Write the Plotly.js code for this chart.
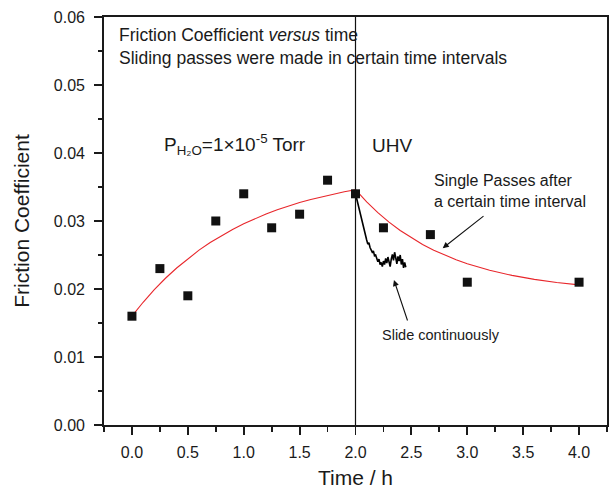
<!DOCTYPE html>
<html>
<head>
<meta charset="utf-8">
<script src="https://cdn.plot.ly/plotly-3.0.1.min.js"></script>
<style>html,body{margin:0;padding:0;background:#fff;}#chart{width:609px;height:489px;}</style>
</head>
<body>
<div id="chart"></div>
<script>
// Measured single-pass friction coefficients
const timeH = [0, 0.25, 0.5, 0.75, 1.0, 1.25, 1.5, 1.75, 2.0, 2.25, 2.67, 3.0, 4.0];
const friction = [0.016, 0.023, 0.019, 0.030, 0.034, 0.029, 0.031, 0.036, 0.034, 0.029, 0.028, 0.021, 0.021];

// Red fit curve, H2O pressure region
const fit1X = [0, 0.1, 0.2, 0.3, 0.4, 0.5, 0.6, 0.7, 0.8, 0.9, 1.0, 1.1, 1.2, 1.3, 1.4, 1.5, 1.6, 1.7, 1.8, 1.9, 2.0];
const fit1Y = [0.0160, 0.01805, 0.01990, 0.02158, 0.02309, 0.02446, 0.02571, 0.02683, 0.02785, 0.02876, 0.02960,
               0.03035, 0.03103, 0.03165, 0.03221, 0.03271, 0.03317, 0.03358, 0.03395, 0.03429, 0.03460];

// Red fit curve, UHV region
const fit2X = [2.0, 2.1, 2.2, 2.3, 2.4, 2.5, 2.6, 2.7, 2.8, 2.9, 3.0, 3.2, 3.4, 3.6, 3.8, 4.0];
const fit2Y = [0.03460, 0.03281, 0.03123, 0.02983, 0.02860, 0.02751, 0.02655, 0.02571, 0.02496, 0.02430,
               0.02372, 0.02275, 0.02200, 0.02141, 0.02096, 0.02060];

// Continuous sliding trace
const slideX = [2.00, 2.01, 2.02, 2.03, 2.04, 2.05, 2.06, 2.07, 2.08, 2.09, 2.10, 2.11, 2.12, 2.13, 2.14, 2.15,
                2.16, 2.17, 2.18, 2.19, 2.20, 2.21, 2.22, 2.23, 2.24, 2.25, 2.26, 2.27, 2.28, 2.29, 2.30, 2.31,
                2.32, 2.33, 2.34, 2.35, 2.36, 2.37, 2.38, 2.39, 2.40, 2.41, 2.42, 2.43, 2.44, 2.45];
const slideY = [0.0340, 0.0333, 0.0326, 0.0320, 0.0313, 0.0306, 0.0298, 0.0292, 0.0282, 0.0276, 0.0272, 0.0266,
                0.0268, 0.0261, 0.0258, 0.0254, 0.0256, 0.0249, 0.0250, 0.0243, 0.0240, 0.0244, 0.0236, 0.0239,
                0.0233, 0.0241, 0.0236, 0.0245, 0.0238, 0.0247, 0.0240, 0.0233, 0.0244, 0.0251, 0.0242, 0.0254,
                0.0246, 0.0237, 0.0248, 0.0241, 0.0250, 0.0236, 0.0244, 0.0231, 0.0239, 0.0232];

const F = 'Liberation Sans, Arial, sans-serif';
const C = '#1a1a1a';

const traces = [
  {x: fit1X, y: fit1Y, mode: 'lines', line: {color: '#e8262b', width: 1.1}, hoverinfo: 'skip'},
  {x: fit2X, y: fit2Y, mode: 'lines', line: {color: '#e8262b', width: 1.1}, hoverinfo: 'skip'},
  {x: slideX, y: slideY, mode: 'lines', line: {color: '#000', width: 1.6}, hoverinfo: 'skip'},
  {x: timeH, y: friction, mode: 'markers', marker: {symbol: 'square', size: 9, color: '#111'}}
];

const layout = {
  width: 609, height: 489,
  margin: {l: 104, r: 2, t: 17, b: 64},
  paper_bgcolor: '#fff', plot_bgcolor: '#fff',
  showlegend: false,
  font: {family: F, color: C, size: 16},
  xaxis: {
    range: [-0.25, 4.25], dtick: 0.5, tick0: 0, tickformat: '.1f',
    ticks: 'outside', ticklen: 8, tickwidth: 1.8, tickcolor: C,
    minor: {dtick: 0.25, tick0: 0, ticks: 'outside', ticklen: 5, tickwidth: 1.8, tickcolor: C, showgrid: false},
    showline: true, linewidth: 1.8, linecolor: C, mirror: true,
    showgrid: false, zeroline: false, ticklabelstandoff: 4,
    tickfont: {size: 16, family: F, color: C},
    title: {text: 'Time / h', font: {size: 21, family: F, color: C}, standoff: 10}
  },
  yaxis: {
    range: [0, 0.06], dtick: 0.01, tick0: 0, tickformat: '.2f',
    ticks: 'outside', ticklen: 8, tickwidth: 1.8, tickcolor: C,
    minor: {dtick: 0.005, tick0: 0, ticks: 'outside', ticklen: 4, tickwidth: 1.8, tickcolor: C, showgrid: false},
    showline: true, linewidth: 1.8, linecolor: C, mirror: true,
    showgrid: false, zeroline: false, ticklabelstandoff: 6,
    tickfont: {size: 16, family: F, color: C},
    title: {text: 'Friction Coefficient', font: {size: 21, family: F, color: C}, standoff: 18}
  },
  shapes: [
    {type: 'line', xref: 'x', yref: 'paper', x0: 2, x1: 2, y0: 0, y1: 1, line: {color: '#111', width: 1.2}}
  ],
  annotations: [
    {xref: 'paper', yref: 'paper', x: 0.025, y: 0.986, xanchor: 'left', yanchor: 'top', align: 'left', showarrow: false,
     text: 'Friction Coefficient <i>versus</i> time<br>Sliding passes were made in certain time intervals',
     font: {size: 17.5, family: F, color: C}},
    {xref: 'x', yref: 'y', x: 0.27, y: 0.0412, xanchor: 'left', yanchor: 'middle', showarrow: false,
     text: 'P<sub>H₂O</sub>=1×10<sup>-5</sup> Torr', font: {size: 19, family: F, color: C}},
    {xref: 'x', yref: 'y', x: 2.13, y: 0.0411, xanchor: 'left', yanchor: 'middle', showarrow: false,
     text: 'UHV', font: {size: 19, family: F, color: C}},
    {xref: 'x', yref: 'y', x: 2.685, y: 0.03446, xanchor: 'left', yanchor: 'middle', align: 'left', showarrow: false,
     text: 'Single Passes after<br>a certain time interval', font: {size: 16, family: F, color: C}},
    {xref: 'x', yref: 'y', x: 2.78, y: 0.0260, showarrow: true,
     arrowhead: 2, arrowsize: 1.1, arrowwidth: 1.1, arrowcolor: '#111', text: ''},
    {xref: 'x', yref: 'y', x: 2.765, y: 0.01324, xanchor: 'center', yanchor: 'middle', showarrow: false,
     text: 'Slide continuously', font: {size: 14.5, family: F, color: C}},
    {xref: 'x', yref: 'y', x: 2.344, y: 0.02132, showarrow: true,
     arrowhead: 2, arrowsize: 1.1, arrowwidth: 1.1, arrowcolor: '#111', text: ''}
  ]
};

// arrow tails (pixel offsets from the arrow heads)
const xp = v => 104 + (v + 0.25) / 4.5 * 503;
const yp = v => 17 + (0.06 - v) / 0.06 * 408;
layout.annotations[4].ax = 485 - xp(2.78); layout.annotations[4].ay = 215 - yp(0.0260);
layout.annotations[6].ax = 408 - xp(2.344); layout.annotations[6].ay = 322 - yp(0.02132);

Plotly.newPlot('chart', traces, layout, {displayModeBar: false, staticPlot: true});
</script>
</body>
</html>
